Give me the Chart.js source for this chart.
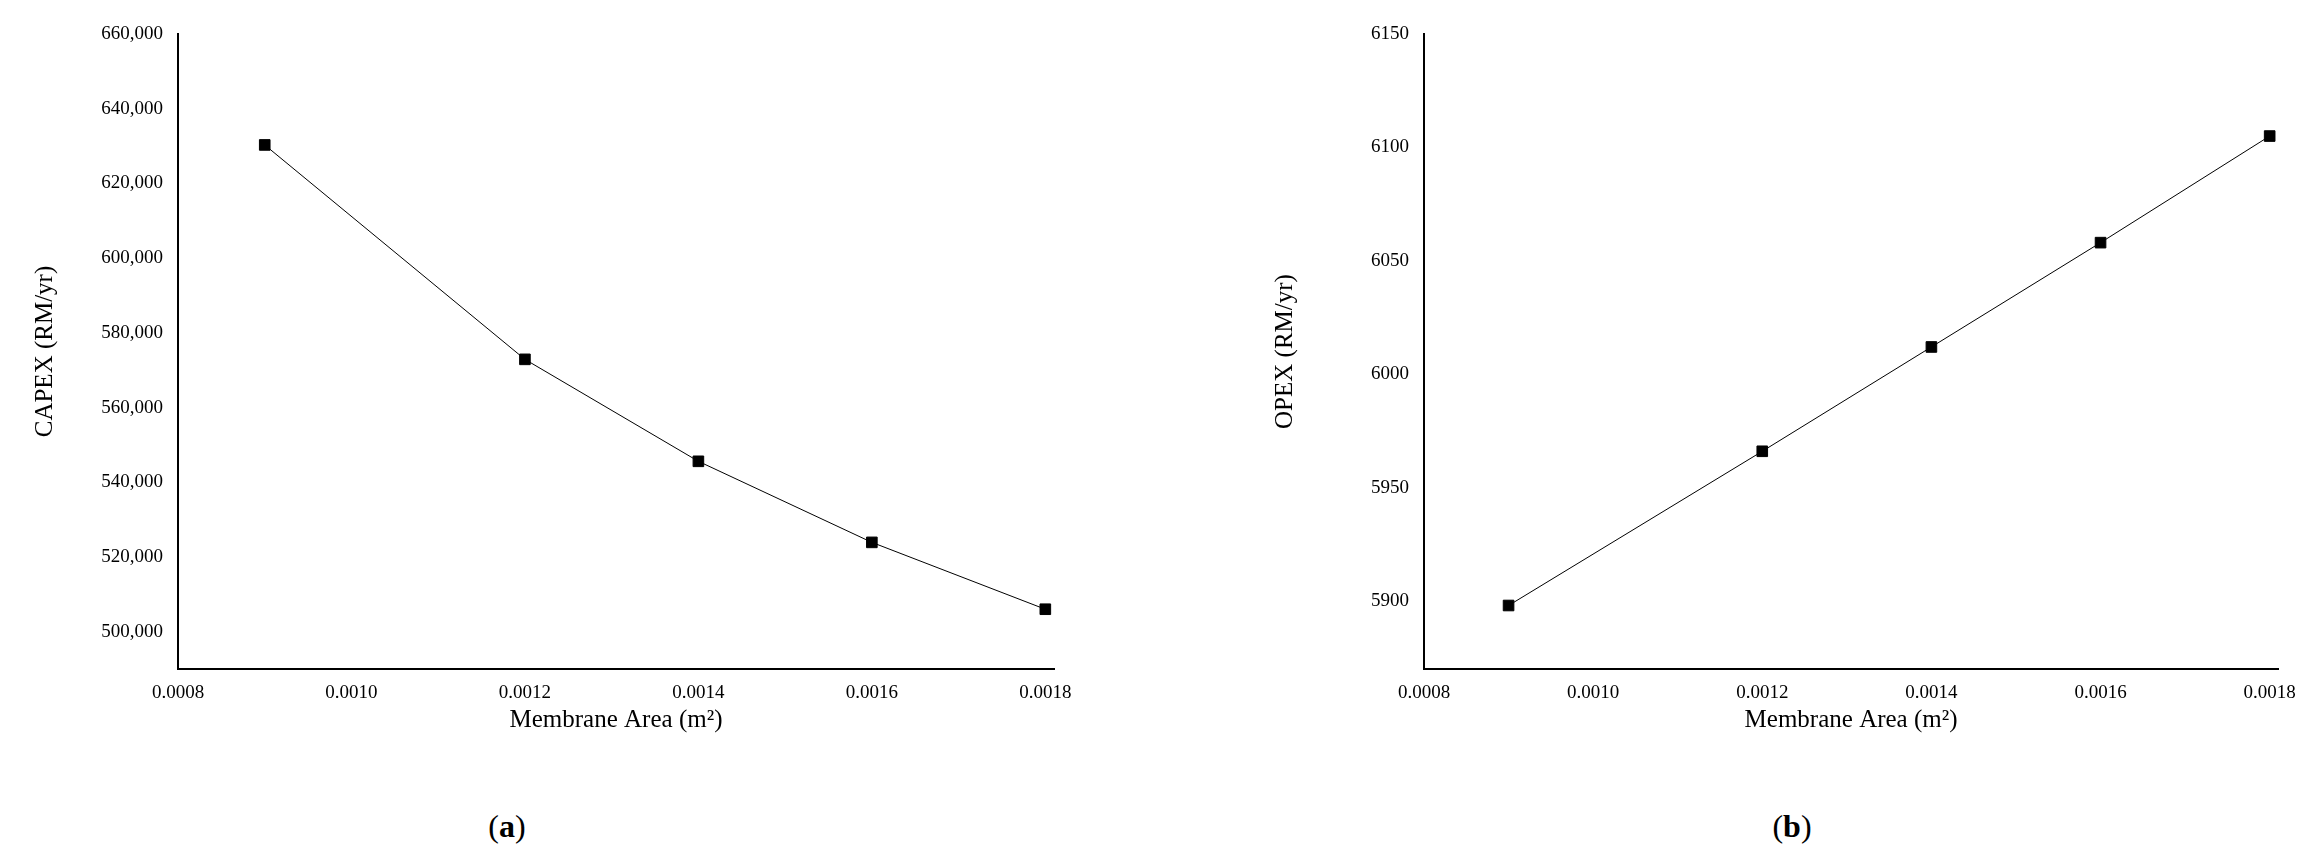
<!DOCTYPE html>
<html><head><meta charset="utf-8">
<script src="https://cdn.jsdelivr.net/npm/chart.js@4"></script>
<style>
body{margin:0;width:2307px;height:862px;background:#fff;position:relative;overflow:hidden;font-family:"Liberation Serif",serif}
.c{position:absolute;top:0}
.lab{position:absolute;top:808px;font-size:32px;transform:translateX(-50%)}
</style></head><body>
<div class="c" style="left:0;width:1110px;height:735px"><canvas id="capexChart"></canvas></div>
<div class="c" style="left:1240px;width:1060px;height:735px"><canvas id="opexChart"></canvas></div>
<div class="lab" style="left:507px">(<b>a</b>)</div>
<div class="lab" style="left:1792px">(<b>b</b>)</div>
<script>
const areas = [0.0009, 0.0012, 0.0014, 0.0016, 0.0018];
const capex = [630300, 572900, 545600, 523900, 506000];
const opex = [5898, 5966, 6012, 6058, 6105];
const xTicks = [0.0008, 0.0010, 0.0012, 0.0014, 0.0016, 0.0018];

const tickFont = {family: 'Liberation Serif', size: 19};
const titleFont = {family: 'Liberation Serif', size: 25};

function makeChart(id, values, yTitle, yMin, yMax, yStep, yWidth, padRight, fmt){
    return new Chart(document.getElementById(id), {
        type: 'line',
        data: {
            datasets: [{
                data: areas.map((a, i) => ({x: a, y: values[i]})),
                borderColor: '#000',
                borderWidth: 1,
                backgroundColor: '#000',
                pointStyle: 'rect',
                pointRadius: 7.5,
                tension: 0,
                clip: false
            }]
        },
        options: {
            responsive: true,
            maintainAspectRatio: false,
            animation: false,
            layout: {padding: {top: 34, right: padRight, left: 0, bottom: 0}},
            plugins: {legend: {display: false}, tooltip: {enabled: false}},
            scales: {
                x: {
                    type: 'linear', min: 0.0008, max: 0.00181,
                    afterBuildTicks: s => { s.ticks = xTicks.map(v => ({value: v})); },
                    afterFit: s => { s.height = 66; },
                    grid: {display: false, drawTicks: true, tickLength: 9, tickWidth: 2, tickColor: '#000'},
                    border: {color: '#000', width: 2},
                    ticks: {color: '#000', font: tickFont, padding: 4, maxRotation: 0, callback: v => v.toFixed(4)},
                    title: {display: true, text: 'Membrane Area (m²)', color: '#000', font: titleFont, padding: 0}
                },
                y: {
                    min: yMin, max: yMax,
                    afterBuildTicks: s => {
                        const t = [];
                        for (let v = yMax; v >= yMin; v -= yStep) t.unshift({value: v});
                        s.ticks = t;
                    },
                    afterFit: s => { s.width = yWidth; },
                    grid: {display: false, drawTicks: true, tickLength: 9, tickWidth: 2, tickColor: '#000'},
                    border: {color: '#000', width: 2},
                    ticks: {color: '#000', font: tickFont, padding: 6, callback: fmt},
                    title: {display: true, text: yTitle, color: '#000', font: titleFont, padding: {top: 0, bottom: 0, y: 0}}
                }
            }
        },
        plugins: [{
            id: 'shiftTitle',
            beforeDraw: c => { c.scales.y.left = 30; }
        }]
    });
}

makeChart('capexChart', capex, 'CAPEX (RM/yr)', 490000, 660000, 20000, 178, 56,
    v => v >= 500000 ? v.toLocaleString('en-US') : '');
makeChart('opexChart', opex, 'OPEX (RM/yr)', 5870, 6150, 50, 184, 20,
    v => v >= 5900 ? String(v) : '');
</script>
</body></html>
